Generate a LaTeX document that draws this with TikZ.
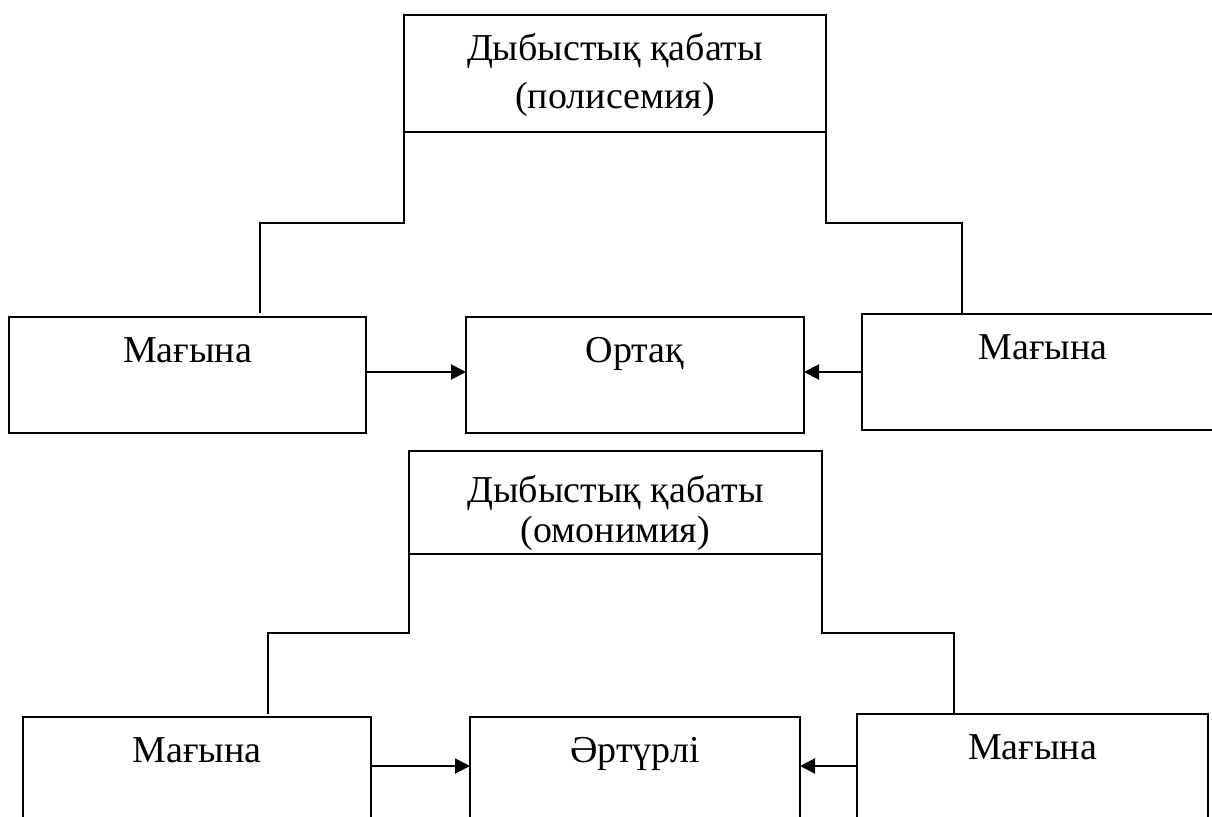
\documentclass[tikz,border=0pt]{standalone}
\usepackage{fontspec}
\setmainfont{Liberation Serif}
\usetikzlibrary{arrows.meta,positioning}

\begin{document}
\begin{tikzpicture}[x=0.5pt, y=-0.5pt, line width=1pt]
   \useasboundingbox (0,0) rectangle (1212,816);
   \begin{scope}[every node/.style={draw, anchor=north west, inner sep=0pt, outer sep=0pt, align=center,
       font=\fontsize{19}{20}\selectfont, text height=22.5pt, text depth=35.5pt}]
    \node (s1) [minimum width=211pt, font=\fontsize{19}{24}\selectfont, text height=46.5pt, text depth=12pt] at (404,15) {Дыбыстық қабаты\\(полисемия)};
    \node (m1) [minimum width=178.5pt] at (9,317) {Мағына};
    \node (c1) [minimum width=169pt] at (466,317) {Ортақ};
    \node (m2) [minimum width=181pt] at (862,314) {Мағына};
    \node (s2) [minimum width=206.5pt, text height=45.5pt, text depth=6pt] at (409,451) {Дыбыстық қабаты\\(омонимия)};
    \node (m3) [minimum width=174pt] at (23,717) {Мағына};
    \node (c2) [minimum width=165pt] at (470,717) {Әртүрлі};
    \node (m4) [minimum width=175.5pt] at (857,714) {Мағына};
   \end{scope}
   % joints above the lower boxes
   \coordinate (j1) at (260,313);
   \coordinate (j2) at (962,313);
   \coordinate (j3) at (268,714);
   \coordinate (j4) at (954,714);
   \draw (s1.south west) -- ++(0,91) -| (j1);
   \draw (s1.south east) -- ++(0,91) -| (j2);
   \draw (s2.south west) -- ++(0,79) -| (j3);
   \draw (s2.south east) -- ++(0,79) -| (j4);
   % arrows into the middle boxes
   \coordinate (a1) at ([yshift=1.5pt]m1.east);
   \coordinate (a2) at (m2.west);
   \coordinate (a3) at ([yshift=4.5pt]m3.east);
   \coordinate (a4) at ([yshift=3pt]m4.west);
   \begin{scope}[-{Triangle[length=7.5pt,width=7.5pt]}]
    \draw (a1) -- (a1 -| c1.west);
    \draw (a2) -- (a2 -| c1.east);
    \draw (a3) -- (a3 -| c2.west);
    \draw (a4) -- (a4 -| c2.east);
   \end{scope}
\end{tikzpicture}
\end{document}
